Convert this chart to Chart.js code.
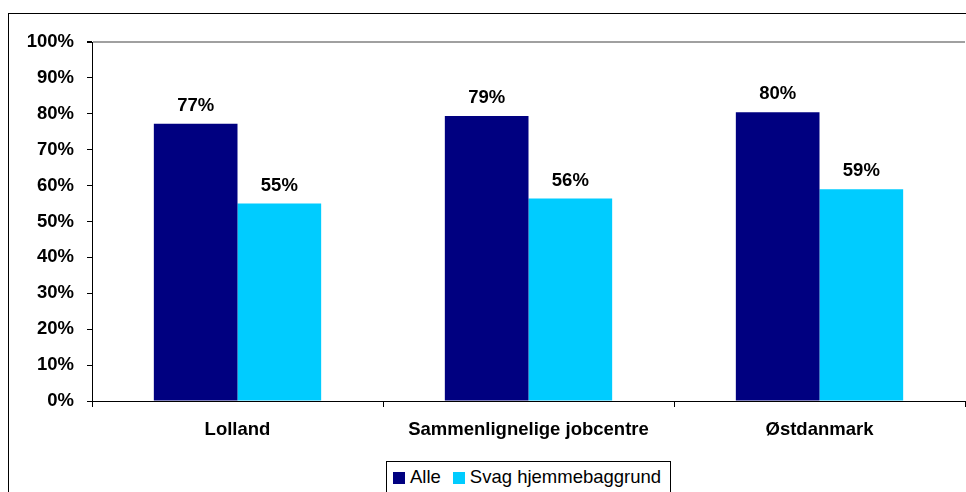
<!DOCTYPE html>
<html><head><meta charset="utf-8">
<script src="https://cdn.jsdelivr.net/npm/chart.js@4/dist/chart.umd.min.js"></script>
<style>
html,body{margin:0;padding:0;overflow:hidden;background:#fff;width:966px;height:492px;position:relative}
#wrap{position:absolute;left:0;top:0;width:1000px;height:530px}
#legend{position:absolute;left:386px;top:461px;width:285px;height:60px;border:1px solid #000;box-sizing:border-box;background:#fff;
  font-family:"Liberation Sans",Arial,sans-serif;font-size:18.5px;color:#000;white-space:nowrap}
#legend .it{position:absolute;top:0;height:30px}
#legend .sw{position:absolute;top:10px;width:12px;height:12px}
#legend .tx{position:absolute;top:4px;line-height:22px}
</style></head><body>
<div id="wrap"><canvas id="c" width="1000" height="530"></canvas></div>
<div id="legend"></div>
<script>
const categories = ["Lolland", "Sammenlignelige jobcentre", "Østdanmark"];
const seriesNames = ["Alle", "Svag hjemmebaggrund"];
const alle = [77.2, 79.4, 80.4];
const svag = [55.0, 56.4, 59.0];
const yTicks = [0, 10, 20, 30, 40, 50, 60, 70, 80, 90, 100];
const colors = ['#000080', '#00CCFF'];

const FONT = "Liberation Sans, Arial, sans-serif";

const framePlugin = {
  id: 'frame',
  beforeDraw(chart) {
    const ctx = chart.ctx;
    ctx.save();
    ctx.fillStyle = '#fff';
    ctx.fillRect(0, 0, chart.width, chart.height);
    ctx.strokeStyle = '#000';
    ctx.lineWidth = 1;
    ctx.strokeRect(8.5, 13.5, chart.width + 20, chart.height + 20);
    ctx.restore();
  }
};

const labelPlugin = {
  id: 'vals',
  afterDatasetsDraw(chart) {
    const ctx = chart.ctx;
    ctx.save();
    ctx.font = "bold 18.5px " + FONT;
    ctx.fillStyle = '#000';
    ctx.textAlign = 'center';
    ctx.textBaseline = 'alphabetic';
    chart.data.datasets.forEach((ds, i) => {
      chart.getDatasetMeta(i).data.forEach((bar, j) => {
        ctx.fillText(Math.round(ds.data[j]) + '%', bar.x, bar.y - 13);
      });
    });
    ctx.restore();
  }
};

const chart = new Chart(document.getElementById('c'), {
  type: 'bar',
  data: {
    labels: categories,
    datasets: [
      { label: seriesNames[0], data: alle, backgroundColor: colors[0], categoryPercentage: 0.575, barPercentage: 1.0 },
      { label: seriesNames[1], data: svag, backgroundColor: colors[1], categoryPercentage: 0.575, barPercentage: 1.0 }
    ]
  },
  options: {
    responsive: false,
    animation: false,
    devicePixelRatio: 1,
    layout: { padding: { left: 0, top: 42, right: 35, bottom: 77 } },
    plugins: {
      tooltip: { enabled: false },
      legend: { display: false }
    },
    scales: {
      x: {
        offset: true,
        grid: { display: true, drawOnChartArea: false, offset: true, tickLength: 6, color: '#000', tickColor: '#000' },
        border: { color: '#000', width: 1 },
        ticks: { color: '#000', font: { family: FONT, size: 18.5, weight: 'bold' }, padding: 12, maxRotation: 0 },
        afterFit(s) { s.height = 52; }
      },
      y: {
        min: 0, max: 100,
        afterBuildTicks(s) { s.ticks = yTicks.map(v => ({ value: v })); },
        grid: {
          drawOnChartArea: true,
          color: ctx => (ctx.tick && ctx.tick.value === 100) ? '#a0a0a0' : 'rgba(0,0,0,0)',
          lineWidth: ctx => (ctx.tick && ctx.tick.value === 100) ? 2 : 1,
          tickColor: '#000', tickLength: 5
        },
        border: { color: '#000', width: 1 },
        ticks: { color: '#000', font: { family: FONT, size: 18.5, weight: 'bold' }, padding: 13, callback: v => v + '%' },
        afterFit(s) { s.width = 92; }
      }
    }
  },
  plugins: [framePlugin, labelPlugin]
});

// HTML legend built from the chart's datasets
const lg = document.getElementById('legend');
let x = 6;
chart.data.datasets.forEach((ds) => {
  const it = document.createElement('div');
  it.className = 'it';
  it.style.left = x + 'px';
  const sw = document.createElement('div');
  sw.className = 'sw';
  sw.style.left = '0px';
  sw.style.background = ds.backgroundColor;
  const tx = document.createElement('span');
  tx.className = 'tx';
  tx.style.left = '17px';
  tx.textContent = ds.label;
  it.appendChild(sw); it.appendChild(tx);
  lg.appendChild(it);
  x += 17 + tx.getBoundingClientRect().width + 12;
});
</script>
</body></html>
